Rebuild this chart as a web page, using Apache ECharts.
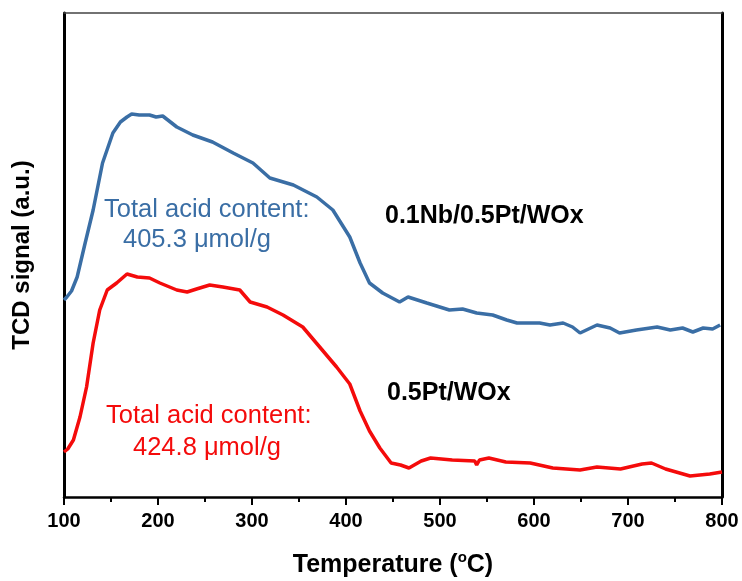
<!DOCTYPE html>
<html>
<head>
<meta charset="utf-8">
<script src="https://cdn.jsdelivr.net/npm/echarts@6/dist/echarts.min.js"></script>
<style>
  html, body { margin: 0; padding: 0; background: #fff; }
  #chart { width: 742px; height: 581px; }
</style>
</head>
<body>
<div id="chart"></div>
<script>
// temperature (°C) and signal (a.u.)
const tempBlue = [100, 103, 108, 114, 122, 131, 141, 152, 160, 167, 172, 180, 191, 198, 205, 220, 237, 258, 280, 301, 319, 344, 369, 386, 404, 415, 425, 439, 457, 466, 486, 510, 524, 539, 556, 571, 582, 606, 617, 631, 641, 649, 667, 681, 691, 709, 731, 745, 758, 769, 780, 790, 798];
const sigBlue  = [197, 200, 206, 220, 252, 287, 334, 364, 375, 380, 383, 382, 382, 380, 381, 370, 362, 355, 344, 334, 319, 312, 300, 287, 260, 234, 214, 204, 195, 200, 194, 187, 188, 184, 182, 177, 174, 174, 172, 174, 170, 164, 172, 169, 164, 167, 170, 167, 169, 165, 169, 168, 172];

const tempRed = [100, 104, 110, 117, 124, 131, 138, 146, 156, 167, 178, 191, 202, 220, 231, 241, 255, 269, 287, 298, 316, 333, 354, 372, 390, 404, 415, 425, 436, 448, 458, 467, 480, 490, 513, 537, 539, 542, 552, 570, 596, 620, 649, 667, 692, 715, 725, 740, 766, 787, 800];
const sigRed  = [45, 48, 57, 80, 110, 154, 187, 207, 214, 223, 220, 219, 214, 207, 205, 208, 212, 210, 207, 195, 190, 182, 170, 150, 130, 113, 86, 66, 49, 34, 32, 29, 36, 39, 37, 36, 32, 37, 39, 35, 34, 29, 27, 30, 28, 33, 34, 28, 21, 23, 25];

const xTicks = [100, 200, 300, 400, 500, 600, 700, 800];

const blue = '#3a6ea5';
const red = '#f40b0b';
const font = 'Liberation Sans, Arial, sans-serif';

const chart = echarts.init(document.getElementById('chart'));

const pairs = (xs, ys) => xs.map((x, i) => [x, ys[i]]);

chart.setOption({
  animation: false,
  grid: { left: 64, right: 20, top: 13, bottom: 84, outerBoundsMode: 'none' },
  xAxis: [{
    type: 'value',
    min: xTicks[0],
    max: xTicks[xTicks.length - 1],
    interval: 100,
    name: 'Temperature ({sup|o}C)',
    nameLocation: 'middle',
    nameGap: 53,
    nameTextStyle: {
      fontFamily: font, fontSize: 25, fontWeight: 'bold', color: '#000',
      rich: { sup: { fontFamily: font, fontSize: 15, fontWeight: 'bold', color: '#000', verticalAlign: 'top', padding: [0, 0, 15, 0] } }
    },
    axisLine: { onZero: false, lineStyle: { color: '#000', width: 2.5 } },
    axisTick: { show: true, length: 8, lineStyle: { color: '#000', width: 2 } },
    minorTick: { show: true, splitNumber: 2, length: 5, lineStyle: { color: '#000', width: 2 } },
    axisLabel: { fontFamily: font, fontSize: 20, fontWeight: 'bold', color: '#000', margin: 14 },
    splitLine: { show: false }
  }, {
    type: 'value',
    position: 'top',
    min: 100,
    max: 800,
    axisLine: { onZero: false, lineStyle: { color: '#444', width: 1.5 } },
    axisTick: { show: false },
    axisLabel: { show: false },
    splitLine: { show: false }
  }],
  yAxis: [{
    type: 'value',
    min: 0,
    max: 484,
    name: 'TCD signal (a.u.)',
    nameLocation: 'middle',
    nameGap: 30,
    nameTextStyle: { fontFamily: font, fontSize: 24, fontWeight: 'bold', color: '#000' },
    axisLine: { show: true, onZero: false, lineStyle: { color: '#000', width: 3 } },
    axisTick: { show: false },
    axisLabel: { show: false },
    splitLine: { show: false }
  }, {
    type: 'value',
    position: 'right',
    min: 0,
    max: 484,
    axisLine: { show: true, onZero: false, lineStyle: { color: '#000', width: 3 } },
    axisTick: { show: false },
    axisLabel: { show: false },
    splitLine: { show: false }
  }],
  series: [{
    name: '0.1Nb/0.5Pt/WOx',
    type: 'line',
    data: pairs(tempBlue, sigBlue),
    showSymbol: false,
    lineStyle: { color: blue, width: 3.5 },
    z: 3
  }, {
    name: '0.5Pt/WOx',
    type: 'line',
    data: pairs(tempRed, sigRed),
    showSymbol: false,
    lineStyle: { color: red, width: 3.5 },
    z: 3
  }],
  graphic: [
    { type: 'text', left: 104, top: 197, style: { text: 'Total acid content:', fill: blue, font: '25.5px ' + font } },
    { type: 'text', left: 123, top: 227, style: { text: '405.3 μmol/g', fill: blue, font: '25.5px ' + font } },
    { type: 'text', left: 106, top: 403, style: { text: 'Total acid content:', fill: red, font: '25.5px ' + font } },
    { type: 'text', left: 133, top: 435, style: { text: '424.8 μmol/g', fill: red, font: '25.5px ' + font } },
    { type: 'text', left: 385, top: 204, style: { text: '0.1Nb/0.5Pt/WOx', fill: '#000', font: 'bold 25px ' + font } },
    { type: 'text', left: 387, top: 381, style: { text: '0.5Pt/WOx', fill: '#000', font: 'bold 25px ' + font } }
  ]
});
</script>
</body>
</html>
